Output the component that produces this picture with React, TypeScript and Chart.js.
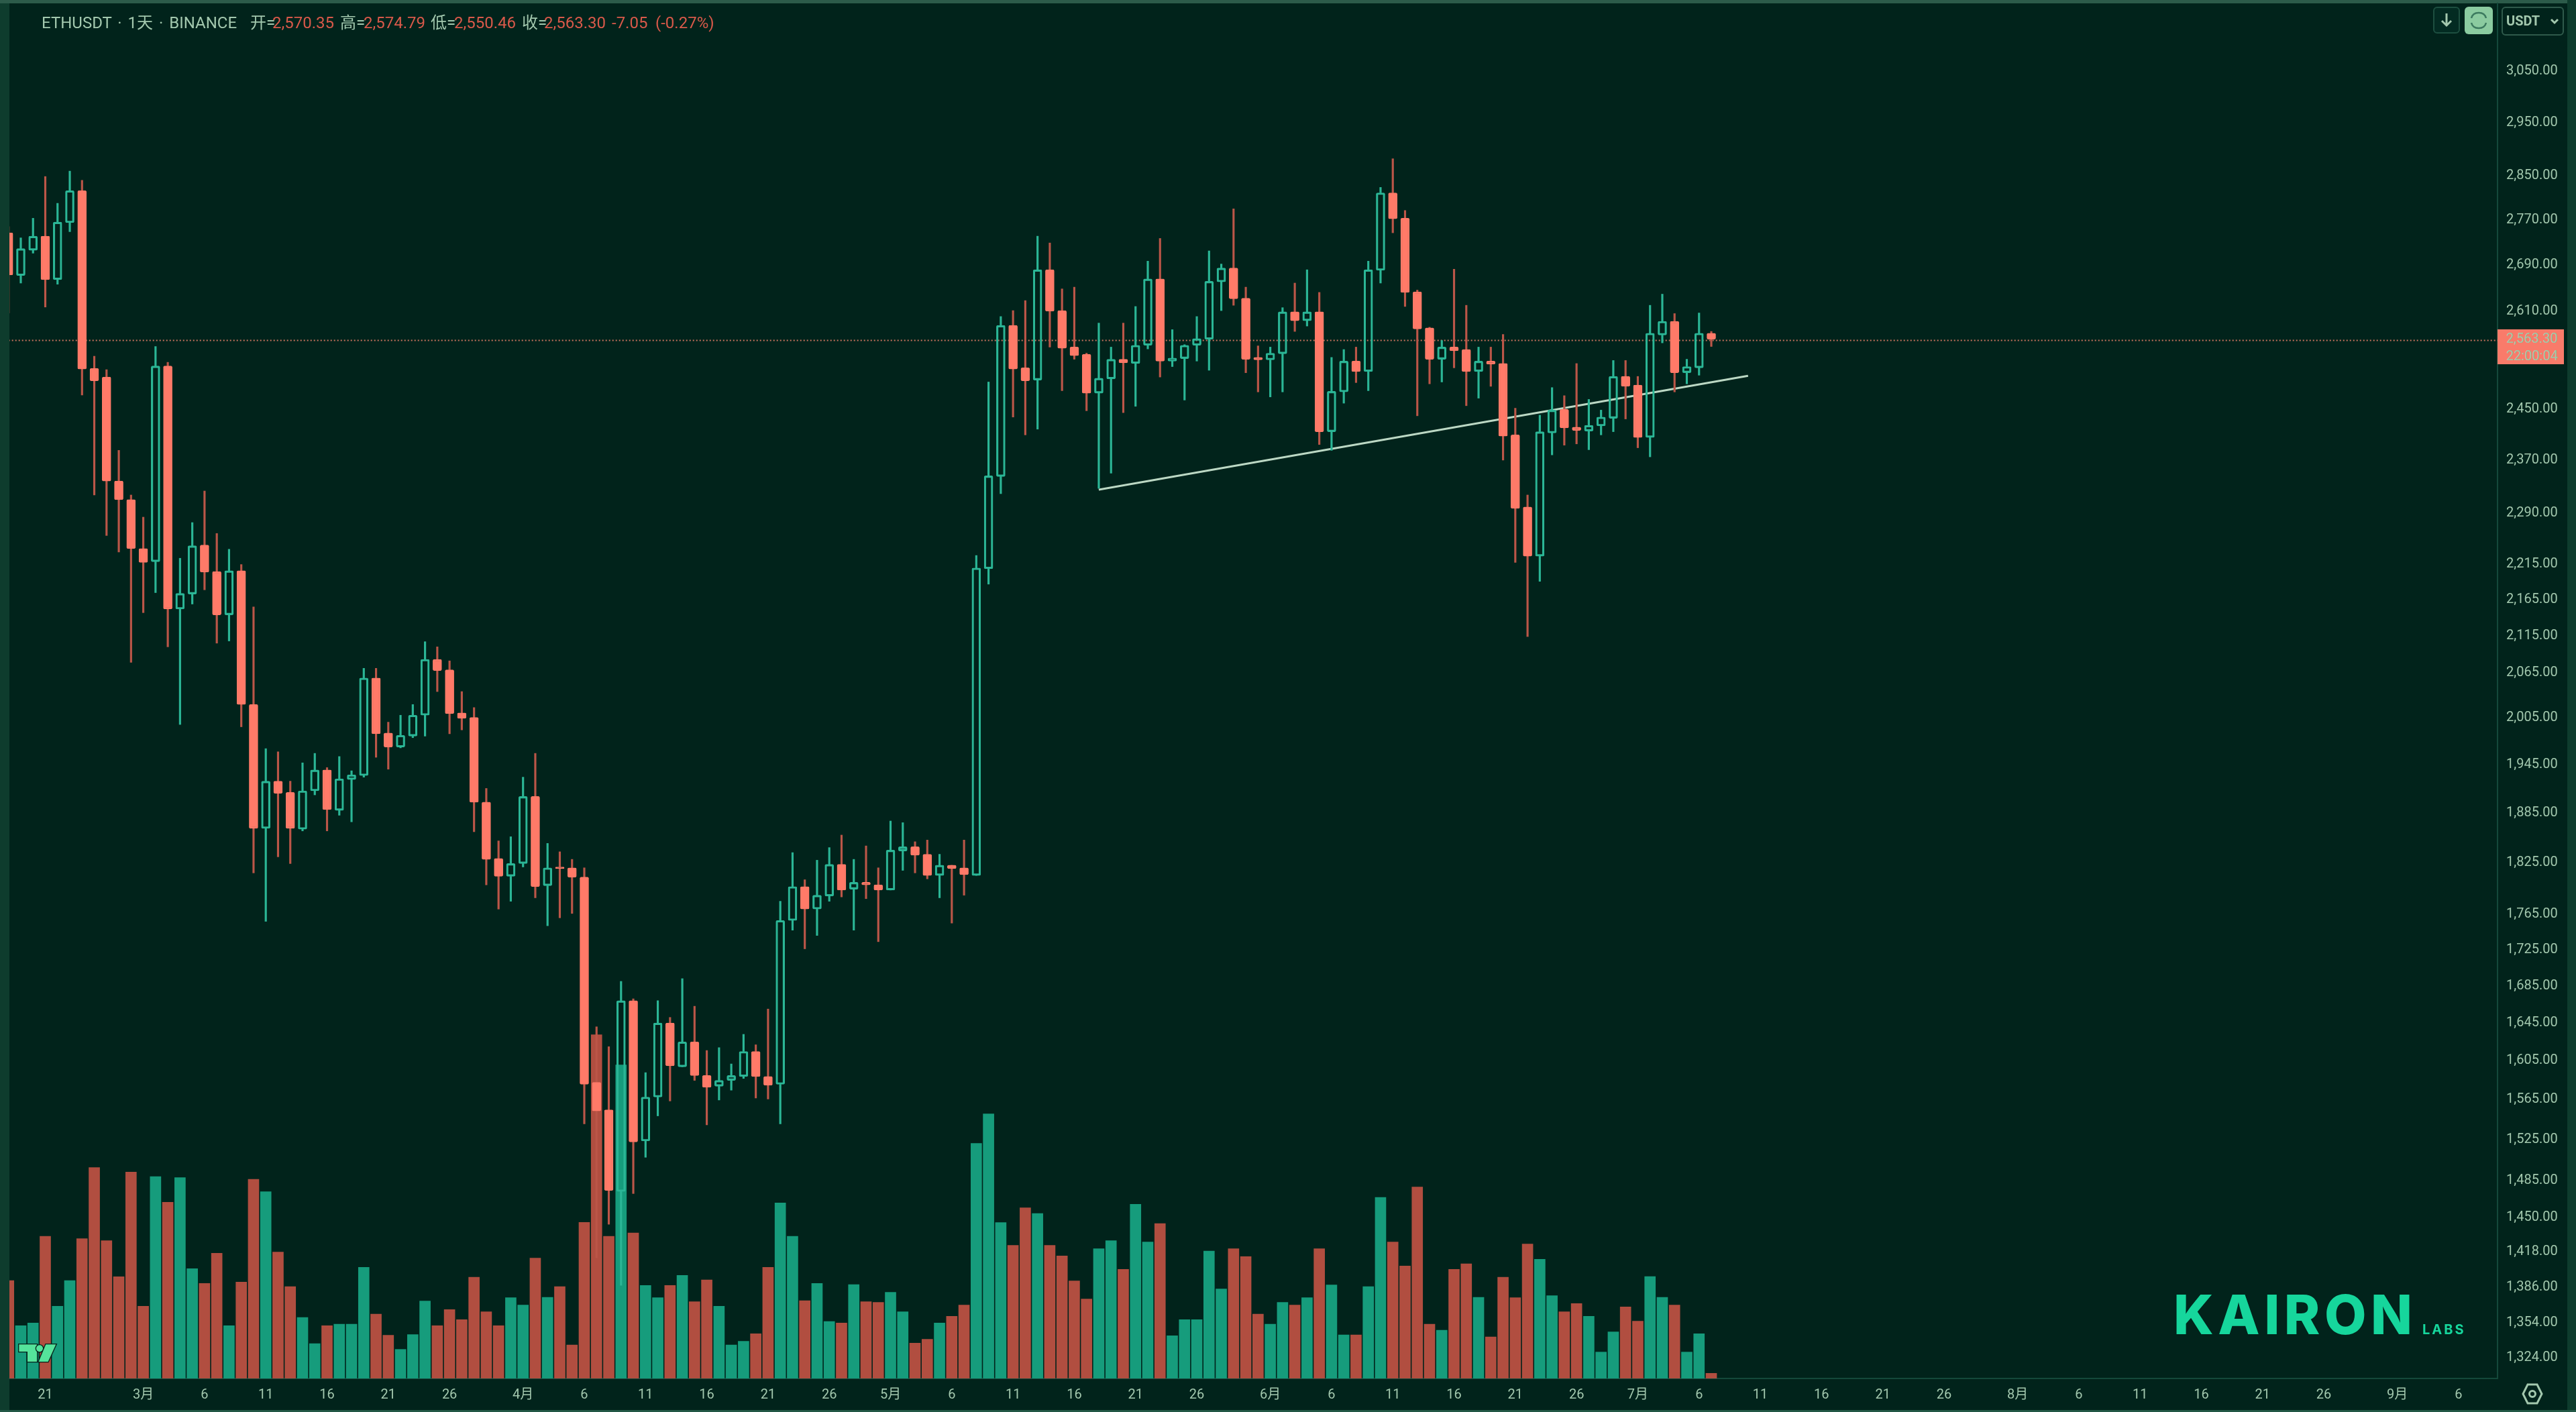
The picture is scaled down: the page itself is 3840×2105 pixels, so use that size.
import { useEffect, useRef } from 'react'
import { Chart, registerables } from 'chart.js'

Chart.register(...registerables)

// daily candles, first one is 18 Feb, day 0 is 21 Feb
const firstDay = -3
const opens = [
  2742, 2667, 2711, 2736, 2660, 2760, 2818, 2511, 2497, 2334, 2306, 2234, 2215, 2515, 2148, 2169, 2239, 2201, 2140, 2202,
  2019, 1863, 1921, 1907, 1862, 1909, 1935, 1885, 1923, 1928, 2054, 1982, 1964, 1978, 2005, 2079, 2065, 2008, 2002, 1895,
  1827, 1806, 1821, 1902, 1795, 1817, 1816, 1805, 1580, 1552, 1472, 1666, 1521, 1565, 1642, 1596, 1622, 1587, 1576, 1582,
  1586, 1612, 1586, 1578, 1755, 1794, 1768, 1783, 1820, 1791, 1799, 1796, 1790, 1836, 1841, 1832, 1807, 1819, 1816, 1807,
  2205, 2341, 2582, 2512, 2492, 2677, 2607, 2546, 2534, 2471, 2494, 2526, 2519, 2549, 2661, 2523, 2527, 2549, 2559, 2656,
  2680, 2628, 2529, 2525, 2535, 2605, 2590, 2605, 2410, 2473, 2523, 2506, 2676, 2814, 2768, 2639, 2578, 2526, 2546, 2542,
  2506, 2523, 2519, 2405, 2295, 2223, 2408, 2445, 2417, 2411, 2419, 2431, 2498, 2484, 2401, 2566, 2589, 2504, 2512, 2569,
]
const highs = [
  2753, 2733, 2768, 2844, 2795, 2854, 2837, 2531, 2509, 2381, 2313, 2280, 2547, 2521, 2220, 2272, 2319, 2256, 2233, 2211,
  2151, 1962, 1958, 1921, 1944, 1956, 1938, 1952, 1934, 2067, 2067, 1996, 2005, 2019, 2103, 2096, 2077, 2036, 2015, 1912,
  1848, 1853, 1926, 1956, 1845, 1835, 1826, 1816, 1638, 1617, 1687, 1668, 1590, 1666, 1648, 1690, 1660, 1613, 1616, 1599,
  1630, 1619, 1657, 1777, 1834, 1802, 1825, 1840, 1855, 1826, 1842, 1816, 1872, 1870, 1847, 1849, 1832, 1819, 1849, 2224,
  2489, 2597, 2607, 2624, 2736, 2724, 2644, 2647, 2536, 2586, 2546, 2586, 2614, 2692, 2732, 2575, 2550, 2597, 2710, 2687,
  2785, 2647, 2548, 2546, 2612, 2654, 2677, 2638, 2529, 2542, 2546, 2692, 2824, 2877, 2782, 2642, 2579, 2557, 2678, 2616,
  2546, 2546, 2567, 2447, 2313, 2436, 2480, 2467, 2519, 2461, 2444, 2524, 2524, 2498, 2616, 2635, 2602, 2526, 2603, 2572,
]
const lows = [
  2603, 2654, 2706, 2613, 2652, 2744, 2468, 2313, 2253, 2229, 2075, 2143, 2171, 2096, 1993, 2155, 2175, 2101, 2104, 1990,
  1810, 1754, 1829, 1821, 1860, 1904, 1860, 1879, 1871, 1926, 1951, 1936, 1963, 1976, 1978, 2036, 1981, 1986, 1859, 1796,
  1768, 1777, 1817, 1781, 1749, 1758, 1763, 1538, 1410, 1441, 1385, 1470, 1505, 1546, 1561, 1596, 1582, 1537, 1562, 1572,
  1584, 1564, 1563, 1538, 1744, 1723, 1738, 1777, 1782, 1744, 1780, 1731, 1790, 1813, 1810, 1803, 1781, 1752, 1784, 1807,
  2183, 2315, 2433, 2405, 2414, 2546, 2475, 2526, 2443, 2323, 2346, 2440, 2450, 2543, 2497, 2514, 2460, 2523, 2508, 2607,
  2616, 2504, 2473, 2465, 2473, 2572, 2581, 2390, 2381, 2455, 2488, 2475, 2654, 2742, 2614, 2435, 2486, 2489, 2512, 2451,
  2463, 2482, 2366, 2214, 2110, 2187, 2374, 2389, 2391, 2382, 2405, 2410, 2430, 2385, 2371, 2553, 2473, 2486, 2500, 2547,
]
const closes = [
  2668, 2714, 2736, 2660, 2761, 2818, 2510, 2491, 2334, 2306, 2234, 2214, 2515, 2148, 2170, 2238, 2200, 2140, 2202, 2019,
  1863, 1921, 1906, 1863, 1909, 1935, 1886, 1924, 1929, 2054, 1981, 1964, 1979, 2005, 2079, 2064, 2007, 2001, 1895, 1826,
  1806, 1821, 1902, 1794, 1816, 1815, 1805, 1578, 1551, 1473, 1666, 1520, 1565, 1642, 1597, 1622, 1587, 1575, 1582, 1587,
  1612, 1586, 1577, 1755, 1794, 1768, 1784, 1820, 1790, 1799, 1796, 1790, 1837, 1841, 1831, 1807, 1819, 1815, 1808, 2206,
  2342, 2582, 2510, 2491, 2677, 2606, 2544, 2532, 2471, 2495, 2526, 2520, 2549, 2661, 2523, 2528, 2549, 2560, 2657, 2680,
  2627, 2526, 2525, 2536, 2605, 2590, 2605, 2410, 2474, 2523, 2506, 2677, 2814, 2767, 2638, 2576, 2526, 2546, 2540, 2506,
  2523, 2518, 2403, 2293, 2223, 2410, 2444, 2416, 2412, 2420, 2433, 2498, 2482, 2401, 2569, 2589, 2504, 2514, 2569, 2559,
]
const volumes = [
  438, 236, 248, 636, 323, 438, 625, 943, 616, 455, 923, 323, 903, 788, 898, 491, 425, 560, 236, 431,
  891, 835, 565, 411, 273, 156, 236, 243, 243, 497, 288, 193, 130, 196, 346, 236, 308, 263, 453, 298,
  236, 361, 328, 538, 363, 411, 150, 698, 1537, 636, 1402, 651, 416, 361, 416, 461, 343, 441, 323, 150,
  166, 200, 497, 785, 636, 348, 425, 255, 248, 420, 343, 340, 385, 298, 158, 175, 248, 278, 328, 1051,
  1183, 697, 595, 763, 738, 595, 548, 436, 355, 580, 616, 488, 779, 610, 693, 191, 263, 263, 570, 400,
  580, 545, 288, 243, 340, 328, 361, 580, 418, 195, 195, 411, 810, 610, 503, 856, 243, 216, 488, 513,
  363, 186, 453, 361, 601, 533, 370, 298, 335, 278, 118, 208, 320, 256, 456, 363, 328, 118, 200, 23,
]

const priceTicks = [
  3050, 2950, 2850, 2770, 2690, 2610, 2450, 2370, 2290, 2215, 2165, 2115, 2065, 2005, 1945, 1885, 1825, 1765, 1725, 1685,
  1645, 1605, 1565, 1525, 1485, 1450, 1418, 1386, 1354, 1324,
]
const tickDays = [
  0, 8, 13, 18, 23, 28, 33, 39, 44, 49, 54, 59, 64, 69, 74, 79, 84, 89, 94, 100, 105, 110, 115, 120, 125, 130, 135, 140,
  145, 150, 155, 161, 166, 171, 176, 181, 186, 192, 197,
]
const tickLabels = [
  '21', '3月', '6', '11', '16', '21', '26', '4月', '6', '11', '16', '21', '26', '5月', '6', '11', '16', '21', '26', '6月',
  '6', '11', '16', '21', '26', '7月', '6', '11', '16', '21', '26', '8月', '6', '11', '16', '21', '26', '9月', '6',
]

const trendDays = [86, 139]
const trendPrices = [2321, 2499]
const priceLineValue = 2557

const PANEL = '#01231b'
const FRAME = '#0e3c2d'
const EDGE = '#14483a'
const TEXT = '#a3c8ae'
const UP = '#2bb696'
const DOWN = '#ff7a68'
const DOWN_WICK = '#bb5648'
const VOL_UP = '#169c7c'
const VOL_DOWN = '#b14e40'
const FONT = 'Roboto, "Noto Sans CJK SC", sans-serif'

const days = opens.map((_, i) => firstDay + i)
const isUp = opens.map((o, i) => closes[i] >= o)
const bodyTop = opens.map((o, i) => Math.max(o, closes[i]))
const bodyBottom = opens.map((o, i) => Math.min(o, closes[i]))

const headerParts = [
  { text: 'ETHUSDT · 1天 · BINANCE', left: 62, color: TEXT },
  { text: '开=', left: 373, color: TEXT },
  { text: '2,570.35', left: 406, color: '#d9594a' },
  { text: '高=', left: 507, color: TEXT },
  { text: '2,574.79', left: 542, color: '#d9594a' },
  { text: '低=', left: 642, color: TEXT },
  { text: '2,550.46', left: 677, color: '#d9594a' },
  { text: '收=', left: 778, color: TEXT },
  { text: '2,563.30', left: 811, color: '#d9594a' },
  { text: '-7.05', left: 912, color: '#d9594a' },
  { text: '(-0.27%)', left: 977, color: '#d9594a' },
]

// label half-heights must not push the plot area in, the log range is fitted to it
const noAxisPadding = (s: any) => {
  s.paddingLeft = 0
  s.paddingRight = 0
  s.paddingTop = 0
  s.paddingBottom = 0
}

export default function App() {
  const canvasRef = useRef<HTMLCanvasElement>(null)

  useEffect(() => {
    if (!canvasRef.current) return
    const chart = new Chart(canvasRef.current, {
      data: {
        datasets: [
          {
            type: 'bar',
            yAxisID: 'vol',
            order: 5,
            grouped: false,
            barThickness: 16,
            data: days.map((d, i) => ({ x: d, y: volumes[i] })),
            backgroundColor: isUp.map(u => (u ? VOL_UP : VOL_DOWN)),
          },
          {
            type: 'line',
            order: 4,
            data: [{ x: -3, y: priceLineValue }, { x: 201, y: priceLineValue }],
            borderColor: '#c9735e',
            borderWidth: 2,
            borderDash: [2, 3],
            pointRadius: 0,
          },
          {
            type: 'line',
            order: 4,
            data: trendDays.map((d, i) => ({ x: d, y: trendPrices[i] })),
            borderColor: '#bcd8c4',
            borderWidth: 3,
            pointRadius: 0,
          },
          // wicks stop at the body so the green candles stay hollow
          {
            type: 'bar',
            order: 3,
            grouped: false,
            barThickness: 2.5,
            data: days.map((d, i) => ({ x: d, y: [bodyTop[i], highs[i]] })),
            backgroundColor: isUp.map(u => (u ? UP : DOWN_WICK)),
          },
          {
            type: 'bar',
            order: 3,
            grouped: false,
            barThickness: 2.5,
            data: days.map((d, i) => ({ x: d, y: [lows[i], bodyBottom[i]] })),
            backgroundColor: isUp.map(u => (u ? UP : DOWN_WICK)),
          },
          {
            type: 'bar',
            order: 2,
            grouped: false,
            barThickness: 13,
            data: days.map((d, i) => ({ x: d, y: [bodyBottom[i], bodyTop[i]] })),
            backgroundColor: isUp.map(u => (u ? 'rgba(0,0,0,0)' : DOWN)),
            borderColor: isUp.map(u => (u ? UP : DOWN)),
            borderWidth: 2.5,
            borderSkipped: false,
            borderRadius: 2,
          },
        ],
      } as any,
      options: {
        responsive: false,
        devicePixelRatio: 1,
        animation: false,
        layout: { padding: { left: 14, top: 5, right: 13, bottom: 3 } },
        plugins: { legend: { display: false }, tooltip: { enabled: false } },
        scales: {
          x: {
            type: 'linear',
            offset: false,
            min: -2.93,
            max: 200.18,
            bounds: 'data',
            grid: { display: false, drawTicks: false, offset: false },
            border: { display: true, color: EDGE, width: 2 },
            afterFit: (s: any) => { s.height = 47; noAxisPadding(s) },
            afterBuildTicks: (s: any) => { s.ticks = tickDays.map(value => ({ value })) },
            ticks: {
              autoSkip: false,
              maxRotation: 0,
              minRotation: 0,
              padding: 13,
              color: TEXT,
              font: { family: FONT, size: 20 },
              callback: (v: any) => tickLabels[tickDays.indexOf(v)],
            },
          },
          y: {
            type: 'logarithmic',
            position: 'right',
            min: 1303.8,
            max: 3182.2,
            bounds: 'data',
            grid: { display: false, drawTicks: false },
            border: { display: true, color: EDGE, width: 2 },
            afterFit: (s: any) => { s.width = 104; noAxisPadding(s) },
            afterBuildTicks: (s: any) => { s.ticks = priceTicks.map(value => ({ value })) },
            ticks: {
              autoSkip: false,
              padding: 13,
              labelOffset: 4,
              color: TEXT,
              font: { family: FONT, size: 20 },
              callback: (v: any) => Number(v).toLocaleString('en-US', { minimumFractionDigits: 2 }),
            },
          },
          vol: { type: 'linear', display: false, min: 0, max: 6150 },
        },
      } as any,
    })
    return () => chart.destroy()
  }, [])

  return (
    <div style={{ position: 'fixed', left: 0, top: 0, width: 3840, height: 2105, overflow: 'hidden', background: FRAME, fontFamily: FONT }}>
      <div style={{ position: 'absolute', left: 0, top: 0, width: 3827, height: 5, background: '#2c5b4a' }} />
      <div style={{ position: 'absolute', left: 0, top: 2102, width: 3840, height: 3, background: '#235846' }} />
      <div style={{ position: 'absolute', left: 14, top: 5, width: 3813, height: 2097, background: PANEL }} />
      <canvas ref={canvasRef} width={3840} height={2105} style={{ position: 'absolute', left: 0, top: 0, display: 'block' }} />

      {headerParts.map(p => (
        <span key={p.left} style={{ position: 'absolute', left: p.left, top: 21, fontSize: 24, lineHeight: '26px', wordSpacing: 3, color: p.color, whiteSpace: 'nowrap' }}>
          {p.text}
        </span>
      ))}

      {/* scroll to latest, auto scale and currency buttons */}
      <div style={{ position: 'absolute', left: 3627, top: 10, width: 40, height: 40, boxSizing: 'border-box', border: '2px solid #1d4f40', borderRadius: 6, background: '#032b22' }}>
        <svg width="36" height="36" viewBox="0 0 36 36">
          <path d="M18 8 V26 M11 19 L18 26 L25 19" fill="none" stroke={TEXT} strokeWidth="3" />
        </svg>
      </div>
      <div style={{ position: 'absolute', left: 3674, top: 10, width: 42, height: 41, borderRadius: 6, background: '#8bcba0' }}>
        <svg width="42" height="41" viewBox="0 0 42 41">
          <path d="M10 17 Q12 9 21 9 Q30 9 32 17 M10 24 Q12 32 21 32 Q30 32 32 24" fill="none" stroke="#3c7a5f" strokeWidth="2.5" />
        </svg>
      </div>
      <div style={{ position: 'absolute', left: 3729, top: 10, width: 93, height: 43, boxSizing: 'border-box', border: '2px solid #2f5a4b', borderRadius: 6, color: TEXT, fontSize: 20, fontWeight: 700, lineHeight: '39px', paddingLeft: 5 }}>
        USDT
        <svg width="14" height="10" viewBox="0 0 14 10" style={{ position: 'absolute', left: 70, top: 15 }}>
          <path d="M2 2 L7 7 L12 2" fill="none" stroke={TEXT} strokeWidth="3" />
        </svg>
      </div>

      {/* last price tag */}
      <div style={{ position: 'absolute', left: 3723, top: 491, width: 99, height: 52, background: '#f97b6a', color: '#9cc9a9', fontSize: 20, lineHeight: '26px', paddingLeft: 13, boxSizing: 'border-box' }}>
        2,563.30
        <br />
        22:00:04
      </div>

      {/* tradingview mark */}
      <svg width="90" height="60" viewBox="0 0 270 180" style={{ position: 'absolute', left: 15, top: 1985 }}>
        <g fill="#55e39b" stroke="#06231c" strokeWidth="8" paintOrder="stroke">
          <path d="M40 58 H120 V135 H78 V90 H40 Z" />
          <circle cx="132" cy="76" r="15" />
          <path d="M160 58 H205 L170 135 H128 Z" />
        </g>
      </svg>

      {/* settings icon */}
      <svg width="32" height="36" viewBox="0 0 32 36" style={{ position: 'absolute', left: 3759, top: 2060 }}>
        <path d="M9 4 H23 L30 18 L23 32 H9 L2 18 Z" fill="none" stroke={TEXT} strokeWidth="3" />
        <circle cx="16" cy="18" r="4.5" fill="none" stroke={TEXT} strokeWidth="3" />
      </svg>

      {/* watermark */}
      <div style={{ position: 'absolute', left: 3240, top: 1912, fontFamily: 'Inter, sans-serif', fontWeight: 800, fontSize: 81, lineHeight: '96px', letterSpacing: 6.5, color: '#16d69c', whiteSpace: 'nowrap' }}>
        KAIRON
      </div>
      <div style={{ position: 'absolute', left: 3611, top: 1970, fontFamily: 'Inter, sans-serif', fontWeight: 700, fontSize: 20, lineHeight: '24px', letterSpacing: 3, color: '#16d69c' }}>
        LABS
      </div>
    </div>
  )
}
